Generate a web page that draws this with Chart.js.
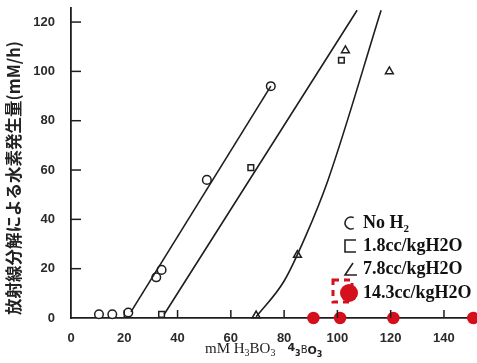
<!DOCTYPE html>
<html>
<head>
<meta charset="utf-8">
<script src="https://cdn.jsdelivr.net/npm/chart.js@4/dist/chart.umd.min.js"></script>
<style>
  html, body { margin: 0; padding: 0; background: #fff; }
  #wrap { width: 477px; height: 363px; position: relative; }
</style>
</head>
<body>
<div id="wrap"><canvas id="h2chart"></canvas></div>
<script>
// measured points (mM H3BO3, mM/h)
const noH2X = [10.5, 15.5, 21.5, 32, 34, 51, 75];
const noH2Y = [1.5, 1.5, 2.2, 16.5, 19.5, 56, 94];
const h18X = [34, 67.5, 101.5];
const h18Y = [1.5, 61, 104.5];
const h78X = [69.5, 85, 103, 119.5];
const h78Y = [1, 25.5, 108.5, 100];
const h143X = [91, 101, 121, 151];
const h143Y = [0, 0, 0, 0];

// hand-drawn trend lines
const fit1X = [22.5, 75];
const fit1Y = [2.5, 94];
const fit2X = [35, 107.4];
const fit2Y = [1.5, 124.8];
const fit3X = [69.5, 80, 88, 96.5, 116.4];
const fit3Y = [0.5, 15, 33, 56, 124.8];

const xTicks = [0, 20, 40, 60, 80, 100, 120, 140];
const yTicks = [0, 20, 40, 60, 80, 100, 120];

const legendLabels = ['No H', '1.8cc/kgH2O', '7.8cc/kgH2O', '14.3cc/kgH2O'];
const yTitle = '放射線分解による水素発生量(mM/h)';

const RED = '#d3101c';
const INK = '#1e1e1e';

function pts(xs, ys) {
  return xs.map(function (x, i) { return { x: x, y: ys[i] }; });
}

function fitLine(xs, ys) {
  return {
    type: 'line',
    data: pts(xs, ys),
    borderColor: INK,
    borderWidth: 1.6,
    pointRadius: 0,
    cubicInterpolationMode: 'monotone',
    fill: false
  };
}

function marks(xs, ys, style, radius, fillCol, lineCol) {
  return {
    type: 'scatter',
    data: pts(xs, ys),
    pointStyle: style,
    pointRadius: radius,
    pointBackgroundColor: fillCol,
    pointBorderColor: lineCol,
    pointBorderWidth: 1.5,
    clip: false
  };
}

// inward tick marks, axis titles and the hand-made legend
const decor = {
  id: 'decor',
  afterDraw: function (chart) {
    const ctx = chart.ctx;
    const xs = chart.scales.x, ys = chart.scales.y;
    const a = chart.chartArea;
    ctx.save();
    ctx.strokeStyle = INK;
    ctx.lineWidth = 1.5;
    xTicks.forEach(function (v) {
      if (v === 0) return;
      const px = xs.getPixelForValue(v);
      ctx.beginPath();
      ctx.moveTo(px, a.bottom);
      ctx.lineTo(px, a.bottom - 8);
      ctx.stroke();
    });
    yTicks.forEach(function (v) {
      if (v === 0) return;
      const py = ys.getPixelForValue(v);
      ctx.beginPath();
      ctx.moveTo(a.left, py);
      ctx.lineTo(a.left + 10, py);
      ctx.stroke();
    });

    // y title
    ctx.fillStyle = '#222';
    ctx.font = 'bold 16.5px "Noto Sans CJK JP"';
    ctx.textAlign = 'center';
    ctx.textBaseline = 'middle';
    ctx.translate(14, 178);
    ctx.rotate(-Math.PI / 2);
    ctx.fillText(yTitle, 0, 0);
    ctx.setTransform(1, 0, 0, 1, 0, 0);

    // x title
    ctx.textAlign = 'left';
    ctx.textBaseline = 'alphabetic';
    let cx = 205;
    const base = 353;
    function put(txt, font, dy) {
      ctx.font = font;
      ctx.fillText(txt, cx, base + dy);
      cx += ctx.measureText(txt).width;
    }
    const serif = '15px "Liberation Serif"';
    const serifSub = '10px "Liberation Serif"';
    put('mM H', serif, 0);
    put('3', serifSub, 3);
    put('BO', serif, 0);
    put('3', serifSub, 3);
    cx += 12;
    const sans = 'bold 11px "DejaVu Sans"';
    const sansSub = 'bold 8px "DejaVu Sans"';
    put('4', sans, -2);
    put('3', sansSub, 3);
    put('B', '10px "DejaVu Sans"', 0);
    put('O', sans, 1);
    put('3', sansSub, 4);

    // legend
    const lx = 363;
    const rows = [223, 246, 269, 293];
    ctx.fillStyle = '#111';
    ctx.textBaseline = 'middle';
    legendLabels.forEach(function (t, i) {
      ctx.font = 'bold 18px "Liberation Serif"';
      ctx.fillText(t, lx, rows[i]);
      if (i === 0) {
        const w = ctx.measureText(t).width;
        ctx.font = 'bold 11px "Liberation Serif"';
        ctx.fillText('2', lx + w, rows[i] + 6);
      }
    });
    ctx.strokeStyle = '#222';
    ctx.lineWidth = 1.6;
    // open circle mark
    ctx.beginPath();
    ctx.arc(351, rows[0], 6, Math.PI * 0.35, Math.PI * 1.65);
    ctx.stroke();
    // open square mark
    ctx.beginPath();
    ctx.moveTo(356, rows[1] - 6);
    ctx.lineTo(345, rows[1] - 6);
    ctx.lineTo(345, rows[1] + 6);
    ctx.lineTo(356, rows[1] + 6);
    ctx.stroke();
    // open triangle mark
    ctx.beginPath();
    ctx.moveTo(357, rows[2] + 6);
    ctx.lineTo(345, rows[2] + 6);
    ctx.lineTo(353, rows[2] - 6);
    ctx.stroke();
    // red dashed box + dot
    ctx.strokeStyle = RED;
    ctx.lineWidth = 3;
    ctx.setLineDash([6, 5]);
    ctx.strokeRect(333, 280, 19, 22);
    ctx.setLineDash([]);
    ctx.fillStyle = RED;
    ctx.beginPath();
    ctx.arc(349, rows[3], 9, 0, Math.PI * 2);
    ctx.fill();
    ctx.restore();
  }
};

new Chart(document.getElementById('h2chart'), {
  data: {
    datasets: [
      fitLine(fit1X, fit1Y),
      fitLine(fit2X, fit2Y),
      fitLine(fit3X, fit3Y),
      marks(noH2X, noH2Y, 'circle', 4.3, '#fff', INK),
      marks(h18X, h18Y, 'rect', 4, '#fff', INK),
      marks(h78X, h78Y, 'triangle', 4.5, '#fff', INK),
      marks(h143X, h143Y, 'circle', 5.5, RED, RED)
    ]
  },
  options: {
    responsive: true,
    maintainAspectRatio: false,
    animation: false,
    layout: { autoPadding: false, padding: { top: 8, right: 0, left: 0, bottom: 0 } },
    plugins: {
      legend: { display: false },
      tooltip: { enabled: false }
    },
    scales: {
      x: {
        type: 'linear',
        min: 0,
        max: 152.4,
        afterBuildTicks: function (s) { s.ticks = xTicks.map(function (v) { return { value: v }; }); },
        afterFit: function (s) { s.height = 45; s.paddingLeft = 0; s.paddingRight = 0; },
        grid: { display: false },
        border: { display: true, color: INK, width: 1.8 },
        ticks: {
          padding: 5,
          color: '#2a2a2a',
          font: { family: 'Liberation Sans', size: 13, weight: 'bold' }
        }
      },
      y: {
        type: 'linear',
        min: 0,
        max: 125.7,
        afterBuildTicks: function (s) { s.ticks = yTicks.map(function (v) { return { value: v }; }); },
        afterFit: function (s) { s.width = 71; s.paddingTop = 0; s.paddingBottom = 0; },
        grid: { display: false },
        border: { display: true, color: INK, width: 1.8 },
        ticks: {
          padding: 8,
          color: '#2a2a2a',
          font: { family: 'Liberation Sans', size: 13, weight: 'bold' }
        }
      }
    }
  },
  plugins: [decor]
});
</script>
</body>
</html>
